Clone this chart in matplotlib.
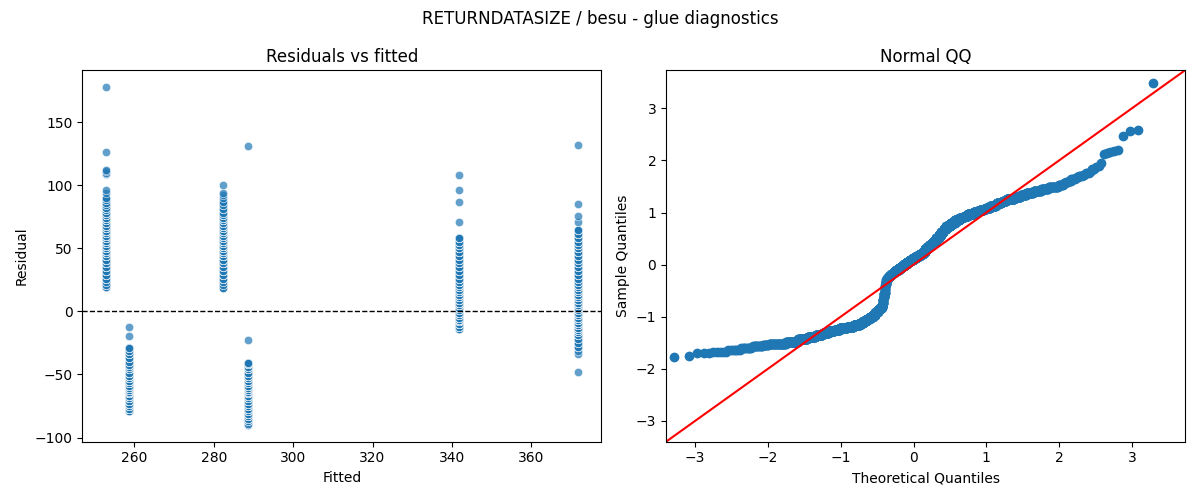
import numpy as np
import matplotlib
matplotlib.use('Agg')
import matplotlib.pyplot as plt
from statistics import NormalDist

# fitted value of each group (x positions in the left panel)
fitted = [252.8, 258.7, 282.4, 288.5, 341.8, 371.7]

# residual levels, with how many points sit at each level
g1_resid = [19.2, 21, 23, 26, 29, 32, 35, 38, 41, 44, 46, 48, 50, 52, 54, 56, 58, 60, 62, 64, 66, 68,
            70, 72, 74, 76, 78, 80, 82, 84, 86, 88, 90, 94, 96, 109, 110, 111, 112, 126, 177.6]
g1_count = [4, 3, 2, 7, 6, 6, 7, 14, 13, 13, 14, 14, 14, 14, 16, 16, 16, 16, 10, 16, 12, 10,
            10, 10, 8, 8, 4, 3, 3, 2, 2, 2, 2, 1, 1, 1, 1, 1, 1, 1, 1]

g2_resid = [-78.8, -77, -75, -73, -71, -69, -67, -65, -63.5, -62, -60.5, -59, -57, -55, -53, -51,
            -49, -46, -44, -42.5, -40, -37, -34, -31, -29, -19.5, -12.1]
g2_count = [8, 16, 16, 16, 16, 16, 16, 16, 16, 25, 25, 25, 15, 15, 15, 15,
            12, 12, 10, 10, 5, 5, 4, 4, 5, 1, 1]

g3_resid = [18.7, 21, 23, 26, 29, 32, 35, 38, 41, 44, 46, 48, 50, 52, 54, 56, 58, 60, 62, 64, 66, 68,
            70, 72, 74, 76, 78, 81, 84, 87, 90, 92, 93.8, 100]
g3_count = [3, 2, 2, 7, 6, 6, 7, 13, 13, 13, 14, 14, 14, 14, 12, 10, 10, 10, 8, 16, 12, 10,
            10, 10, 8, 8, 3, 3, 2, 2, 1, 1, 1, 1]

g4_resid = [-89.9, -89.6, -86.7, -85, -83, -81, -79, -77, -75, -73, -71, -69, -67, -65, -63.5,
            -62, -60.5, -59, -57, -55, -53, -51, -49, -46, -44, -42, -41, -22.9, 131]
g4_count = [1, 1, 3, 5, 7, 9, 12, 17, 17, 17, 17, 17, 17, 17, 17,
            25, 25, 25, 14, 14, 14, 14, 12, 10, 8, 10, 4, 1, 1]

g5_resid = [-13.7, -12, -10, -8, -6.5, -5, -3, -1, 1, 3, 5, 7, 9, 11, 13, 15, 17, 19, 21, 23,
            26, 29, 32, 35, 38, 41, 44, 47, 50, 52.5, 55, 58.2, 70.9, 86.7, 96.4, 108]
g5_count = [3, 8, 10, 12, 13, 15, 15, 15, 15, 15, 18, 18, 18, 18, 12, 12, 12, 11, 10, 10,
            7, 7, 7, 7, 8, 8, 8, 10, 10, 10, 8, 6, 1, 1, 1, 1]

g6_resid = [-47.7, -34, -31, -28, -25, -22, -19, -16.5, -15, -13, -11, -9, -7, -5, -3, -1, 1, 3,
            5, 7, 9, 11, 13, 15, 17, 19, 21, 23, 26, 29, 32, 35, 38, 41, 44, 47, 50, 52.5,
            55, 58, 61, 64.8, 70.6, 75.9, 85, 131.7]
g6_count = [1, 1, 1, 3, 3, 3, 4, 4, 8, 10, 12, 12, 13, 14, 14, 14, 14, 15,
            19, 19, 19, 18, 10, 10, 10, 9, 9, 9, 6, 6, 6, 6, 7, 7, 7, 8, 8, 8,
            8, 8, 8, 4, 1, 1, 1, 1]

groups = [(g1_resid, g1_count), (g2_resid, g2_count), (g3_resid, g3_count),
          (g4_resid, g4_count), (g5_resid, g5_count), (g6_resid, g6_count)]

x_all = []
r_all = []
for fv, (res, cnt) in zip(fitted, groups):
    vals = np.repeat(res, cnt)
    r_all.append(vals)
    x_all.append(np.full(len(vals), fv))
x_all = np.concatenate(x_all)
r_all = np.concatenate(r_all)

fig, (ax1, ax2) = plt.subplots(1, 2, figsize=(12, 5))

ax1.scatter(x_all, r_all, s=36, alpha=0.7, color='#1f77b4', edgecolor='white', linewidth=0.5)
ax1.axhline(0, color='black', linestyle='--', linewidth=1)
ax1.set_title('Residuals vs fitted')
ax1.set_xlabel('Fitted')
ax1.set_ylabel('Residual')

# normal QQ of the standardised residuals
sample = np.sort((r_all - r_all.mean()) / r_all.std(ddof=1))
n = len(sample)
nd = NormalDist()
theo = np.array([nd.inv_cdf(i / (n + 1)) for i in range(1, n + 1)])
ax2.plot(theo, sample, 'o', color='#1f77b4', markersize=6)
lims = [-3.40, 3.73]
ax2.plot(lims, lims, color='red', linewidth=1.5)
ax2.set_xlim(lims)
ax2.set_ylim(lims)
ax2.set_title('Normal QQ')
ax2.set_xlabel('Theoretical Quantiles')
ax2.set_ylabel('Sample Quantiles')

fig.suptitle('RETURNDATASIZE / besu - glue diagnostics')
plt.tight_layout()
plt.savefig('out.png', dpi=100)
print(n, r_all.mean(), r_all.std(ddof=1))
